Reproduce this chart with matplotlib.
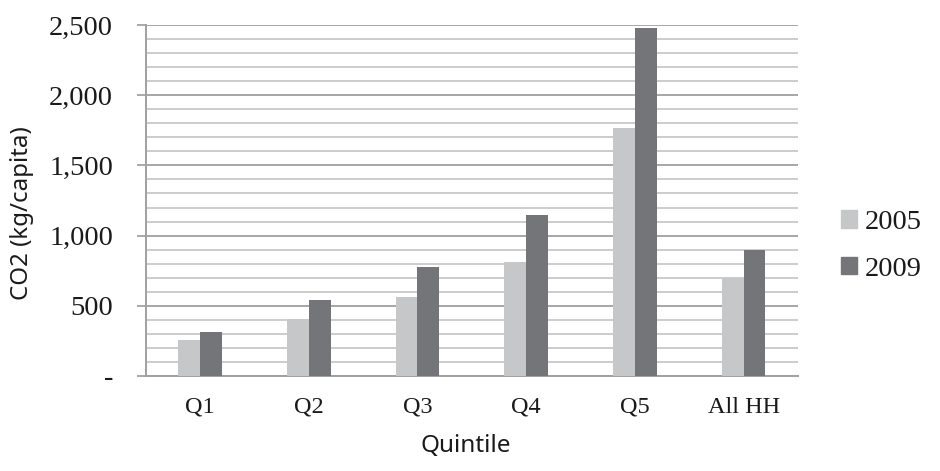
import matplotlib
matplotlib.use("Agg")
import matplotlib.pyplot as plt
import numpy as np
from matplotlib.ticker import MultipleLocator, FixedLocator
from matplotlib.patches import Patch

categories = ["Q1", "Q2", "Q3", "Q4", "Q5", "All HH"]
series_names = ["2005", "2009"]
values_2005 = [252, 407, 564, 814, 1767, 700]
values_2009 = [314, 541, 779, 1146, 2479, 898]
ytick_values = [0, 500, 1000, 1500, 2000, 2500]
ytick_labels = ["-", "500", "1,000", "1,500", "2,000", "2,500"]

c2005 = "#c6c7c9"
c2009 = "#737578"
serif = "Liberation Serif"
sans = "Noto Sans"

W, H = 940, 471
fig = plt.figure(figsize=(W / 100, H / 100), dpi=100)
ax = fig.add_axes([145.7 / W, 1 - 375.7 / H, (798 - 145.7) / W, (375.7 - 25.3) / H])

x = np.arange(len(categories))
bw = 0.2
ax.bar(x - bw / 2, values_2005, bw, color=c2005, zorder=3)
ax.bar(x + bw / 2, values_2009, bw, color=c2009, zorder=3)

ax.set_xlim(-0.5, len(categories) - 0.5)
ax.set_ylim(0, 2500)

ax.yaxis.set_major_locator(FixedLocator(ytick_values))
ax.set_yticklabels(ytick_labels, fontfamily=serif, fontsize=20.5, color="#1a1a1a")
ax.yaxis.set_minor_locator(MultipleLocator(100))
ax.tick_params(axis="y", which="major", length=6.5, width=1.2, color="#999999", pad=17)
ax.tick_params(axis="y", which="minor", length=0)
ax.grid(axis="y", which="minor", color="#c4c4c4", linewidth=1.2, zorder=0)
ax.grid(axis="y", which="major", color="#a6a6a6", linewidth=1.4, zorder=0)

ax.set_xticks(x)
ax.set_xticklabels(categories, fontfamily=serif, fontsize=17.5, color="#1a1a1a")
ax.tick_params(axis="x", length=0, pad=15)

for s in ["top", "right"]:
    ax.spines[s].set_visible(False)
for s in ["left", "bottom"]:
    ax.spines[s].set_color("#a0a0a0")
    ax.spines[s].set_linewidth(1.4)
ax.set_axisbelow(True)

fig.text(22 / W, 1 - 213.5 / H, "CO2 (kg/capita)", rotation=90, ha="center", va="center",
         fontfamily=sans, fontsize=17.3, color="#1a1a1a")
fig.text(465.5 / W, 1 - 446 / H, "Quintile", ha="center", va="center",
         fontfamily=sans, fontsize=17.5, color="#1a1a1a")

handles = [Patch(color=c2005, label=series_names[0]), Patch(color=c2009, label=series_names[1])]
fig.legend(handles=handles, loc="center left", bbox_to_anchor=(841 / W, 1 - 246 / H),
           frameon=False, prop={"family": serif, "size": 20.5},
           handlelength=0.55, handleheight=0.55, handletextpad=0.3, labelspacing=0.77,
           borderaxespad=0, borderpad=0, labelcolor="#1a1a1a")

fig.savefig("out.png", dpi=100)
